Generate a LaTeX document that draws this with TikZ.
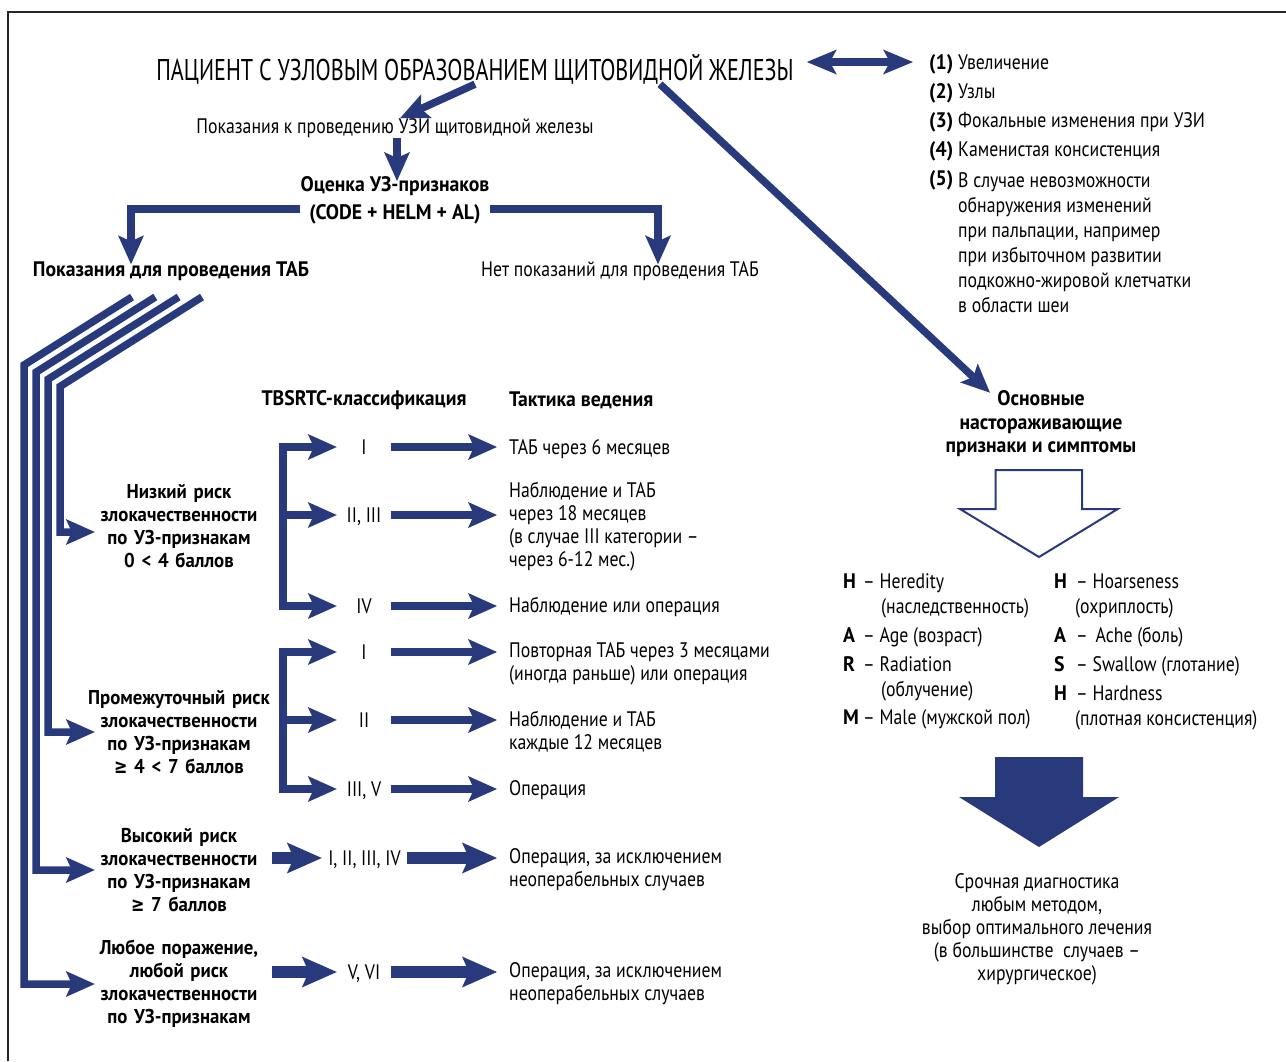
\documentclass[tikz,border=0pt]{standalone}
\usepackage{fontspec}
\setmainfont{PT Sans}[FakeStretch=0.845, BoldFeatures={FakeStretch=0.94}]
\newfontfamily\titlefont{PT Sans}[FakeStretch=0.738]
\newfontfamily\riskfont{PT Sans}[FakeStretch=0.845, BoldFeatures={FakeStretch=0.94, WordSpace=0.75}]
\newfontfamily\symfnt{DejaVu Sans}[FakeStretch=0.8]
\usetikzlibrary{arrows.meta,calc}
\definecolor{nblue}{HTML}{293A7C}
\newcommand{\geqs}{{\symfnt\bfseries ≥}}
\begin{document}
\begin{tikzpicture}[x=1pt,y=-1pt,
  every node/.style={inner sep=0pt, font=\fontsize{21}{25}\selectfont},
  ntip/.tip={Stealth[length=29pt,width=26pt,inset=6pt,line width=0pt]},
  btip/.tip={Stealth[length=35pt,width=31pt,inset=7pt,line width=0pt]},
  dtip/.tip={Stealth[length=30pt,width=25pt,inset=7pt,line width=0pt]},
  flow/.style={draw=nblue, line width=7.5pt, -ntip},
  bigflow/.style={draw=nblue, line width=12.5pt, -btip},
  dbl/.style={draw=nblue, line width=8pt, dtip-dtip},
  bf/.style={font=\bfseries\fontsize{21}{25}\selectfont},
  sl/.style={text height=15pt, text depth=5pt},
  risk/.style={align=center, text width=200pt, font=\riskfont\bfseries\fontsize{20}{23}\selectfont},
  roman/.style={minimum width=54pt, text height=14pt, text depth=0pt},
  treat/.style={anchor=west, align=left, inner xsep=12pt, inner ysep=0pt, font=\fontsize{21}{23}\selectfont},
  hl/.style={bf, sl, anchor=west},
  ht/.style={sl, anchor=west}
]
\useasboundingbox (0,0) rectangle (1286,1061);
\draw[line width=1.3pt, black!85] (8,1061) -- (8,12) -- (1286,12);

% top part
\node[font=\titlefont\fontsize{30}{36}\selectfont] (title) at (475,69) {ПАЦИЕНТ С УЗЛОВЫМ ОБРАЗОВАНИЕМ ЩИТОВИДНОЙ ЖЕЛЕЗЫ};
\node (usi) at (395,128) {Показания к проведению УЗИ щитовидной железы};
\node[align=center, font=\bfseries\fontsize{21}{28}\selectfont] (eval) at (395,200) {Оценка УЗ-признаков\\(CODE + HELM + AL)};
\node[bf] (fy) at (171,271) {Показания для проведения ТАБ};
\node (fn) at (620,271) {Нет показаний для проведения ТАБ};

% list on the right
\node[bf, sl, anchor=west] (n1) at (929,64) {(1)};
\node[sl, anchor=west] (l1) at (958,64) {Увеличение};
\node[bf, sl, anchor=west] (n2) at (929,93) {(2)};
\node[sl, anchor=west] (l2) at (958,93) {Узлы};
\node[bf, sl, anchor=west] (n3) at (929,122) {(3)};
\node[sl, anchor=west] (l3) at (958,122) {Фокальные изменения при УЗИ};
\node[bf, sl, anchor=west] (n4) at (929,151) {(4)};
\node[sl, anchor=west] (l4) at (958,151) {Каменистая консистенция};
\node[bf, sl, anchor=west] (n5) at (929,180) {(5)};
\node[anchor=west, align=left] (l5) at (958,243) {В случае невозможности\\обнаружения изменений\\при пальпации, например\\при избыточном развитии\\подкожно-жировой клетчатки\\в области шеи};

% signs
\node[align=center, font=\bfseries\fontsize{21}{23.5}\selectfont] (signs) at (1041,424) {Основные\\настораживающие\\признаки и симптомы};

% connectors top
\draw[dbl] ([xshift=13pt,yshift=7pt]title.east) -- ([xshift=-16pt,yshift=2pt]n1.west);
\draw[flow] (title.south) -- ([xshift=5pt]usi.north);
\draw[flow] ([xshift=2pt]usi.south) -- ([xshift=2pt,yshift=-5pt]eval.north);
\draw[flow] ([yshift=-9pt]eval.west) -| ([xshift=-40pt,yshift=-3pt]fy.north);
\draw[flow] ([yshift=-9pt]eval.east) -| ([xshift=38pt,yshift=-3pt]fn.north);
\draw[flow] ([xshift=185pt]title.south) -- ([xshift=-51pt,yshift=-2pt]signs.north);

% hollow arrow
\draw[nblue, line width=2pt, line join=miter] (995.7,470) -- (1082,470) -- (1082,509) -- (1117.7,509) -- (1039,557) -- (960,509) -- (995.7,509) -- cycle;

% HARSH
\node[hl] (hH) at (843,583) {H};
\node[ht] (tH) at (863,583) {– Heredity};
\node[ht] (tH2) at (881,608) {(наследственность)};
\node[hl] (hA) at (843,637) {A};
\node[ht] (tA) at (863,637) {– Age (возраст)};
\node[hl] (hR) at (843,666) {R};
\node[ht] (tR) at (863,666) {– Radiation};
\node[ht] (tR2) at (881,691) {(облучение)};
\node[hl] (hM) at (843,719) {M};
\node[ht] (tM) at (863,719) {– Male (мужской пол)};
\node[hl] (hH3) at (1054,583) {H};
\node[ht] (tH3) at (1076,583) {– Hoarseness};
\node[ht] (tH4) at (1075,608) {(охриплость)};
\node[hl] (hA2) at (1054,637) {A};
\node[ht] (tA2) at (1076,637) {–\hspace{3pt} Ache (боль)};
\node[hl] (hS) at (1054,666) {S};
\node[ht] (tS) at (1076,666) {– Swallow (глотание)};
\node[hl] (hH5) at (1054,695) {H};
\node[ht] (tH5) at (1076,695) {– Hardness};
\node[ht] (tH6) at (1075,720) {(плотная консистенция)};

% filled arrow
\fill[nblue] (995,757) -- (1083,757) -- (1083,797) -- (1119,797) -- (1039,847) -- (959,797) -- (995,797) -- cycle;

\node[align=center, font=\fontsize{21}{23}\selectfont] (urg) at (1037,929) {Срочная диагностика\\любым методом,\\выбор оптимального лечения\\(в большинстве~ случаев –\\хирургическое)};

% headers
\node[bf] (hcls) at (364,400) {TBSRTC-классификация};
\node[bf, anchor=west] (htac) at (509,400) {Тактика ведения};

% risk nodes
\node[risk] (rlow) at (179,526) {Низкий риск\\злокачественности\\по УЗ-признакам\\0 < 4 баллов};
\node[risk] (rint) at (179,732) {Промежуточный риск\\злокачественности\\по УЗ-признакам\\\geqs\ 4 < 7 баллов};
\node[risk] (rhigh) at (179,870) {Высокий риск\\злокачественности\\по УЗ-признакам\\\geqs\ 7 баллов};
\node[risk] (rany) at (179,984) {Любое поражение,\\любой риск\\злокачественности\\по УЗ-признакам};

% four lines from FNA indication
\coordinate (s0) at (132,297);
\coordinate (s1) at (155.3,297);
\coordinate (s2) at (178.6,297);
\coordinate (s3) at (202,297);
\draw[flow] (s0) -- (24,365) |- ([xshift=16pt]rany.west);
\draw[flow] (s1) -- (36,372.2) |- ([xshift=16pt]rhigh.west);
\draw[flow] (s2) -- (48,379.3) |- ([xshift=16pt]rint.west);
\draw[flow] (s3) -- (60,386.5) |- ([xshift=16pt,yshift=-6pt]rlow.west);

% roman nodes
\node[roman] (a1) at (364,447) {I};
\node[roman] (a2) at (364,515) {II, III};
\node[roman] (a3) at (364,606) {IV};
\node[roman] (b1) at (364,652) {I};
\node[roman] (b2) at (364,720) {II};
\node[roman] (b3) at (364,789) {III, V};
\node[roman, minimum width=85pt] (c1) at (364.5,858) {I, II, III, IV};
\node[roman] (d1) at (364,972) {V, VI};

% treatment nodes
\node[treat] (t1) at (497,449) {ТАБ через 6 месяцев};
\node[treat] (t2) at (497,527) {Наблюдение и ТАБ\\через 18 месяцев\\(в случае III категории –\\через 6-12 мес.)};
\node[treat] (t3) at (497,607) {Наблюдение или операция};
\node[treat] (t4) at (497,664) {Повторная ТАБ через 3 месяцами\\(иногда раньше) или операция};
\node[treat] (t5) at (497,732) {Наблюдение и ТАБ\\каждые 12 месяцев};
\node[treat] (t6) at (497,790) {Операция};
\node[treat] (t7) at (497,870) {Операция, за исключением\\неоперабельных случаев};
\node[treat] (t8) at (497,984) {Операция, за исключением\\неоперабельных случаев};

% brackets
\coordinate (bxa) at (283,527);
\coordinate (bxb) at (283,720);
\draw[flow, ntip-ntip] (a1.west) -| (bxa) |- (a3.west);
\draw[flow] (bxa |- a2.west) -- (a2.west);
\draw[flow, ntip-ntip] (b1.west) -| (bxb) |- (b3.west);
\draw[flow] (bxb |- b2.west) -- (b2.west);
\draw[bigflow] ([xshift=-50pt]c1.west) -- (c1.west);
\draw[bigflow] ([xshift=-65pt]d1.west) -- (d1.west);

% to treatments
\draw[flow] (a1.east) -- (a1.east -| t1.west);
\draw[flow] (a2.east) -- (a2.east -| t2.west);
\draw[flow] (a3.east) -- (a3.east -| t3.west);
\draw[flow] (b1.east) -- (b1.east -| t4.west);
\draw[flow] (b2.east) -- (b2.east -| t5.west);
\draw[flow] (b3.east) -- (b3.east -| t6.west);
\draw[bigflow] (c1.east) -- (c1.east -| t7.west);
\draw[bigflow] (d1.east) -- (d1.east -| t8.west);
\end{tikzpicture}
\end{document}
